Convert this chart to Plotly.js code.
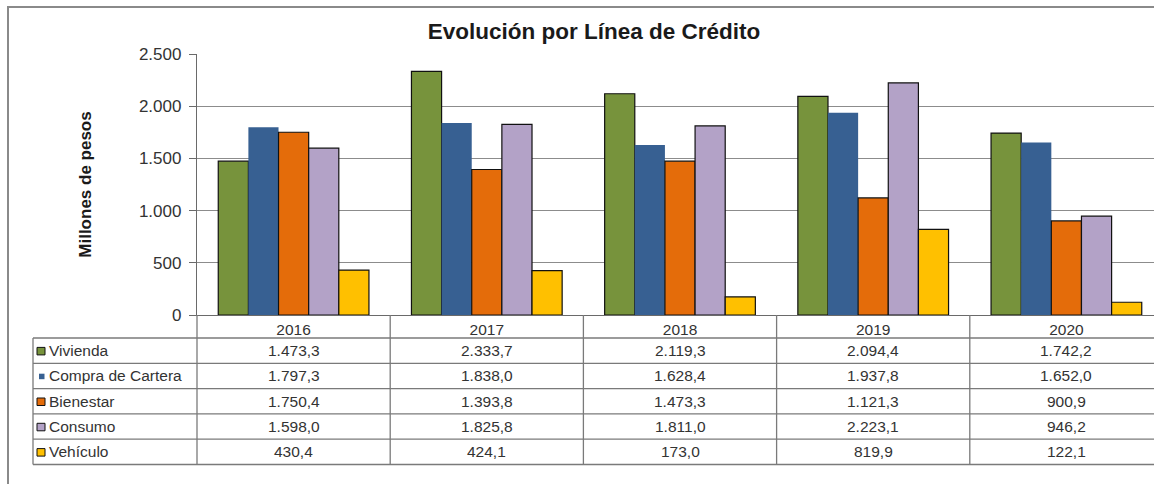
<!DOCTYPE html>
<html>
<head>
<meta charset="utf-8">
<script src="https://cdn.plot.ly/plotly-3.0.1.min.js"></script>
<style>
  html, body { margin: 0; padding: 0; background: #ffffff; overflow: hidden; }
  #chart { width: 1154px; height: 484px; }
</style>
</head>
<body>
<div id="chart"></div>
<script>
// ---- Data ----
const years = ['2016', '2017', '2018', '2019', '2020'];
const seriesNames = ['Vivienda', 'Compra de Cartera', 'Bienestar', 'Consumo', 'Vehículo'];
const vivienda = [1473.3, 2333.7, 2119.3, 2094.4, 1742.2];
const compraCartera = [1797.3, 1838.0, 1628.4, 1937.8, 1652.0];
const bienestar = [1750.4, 1393.8, 1473.3, 1121.3, 900.9];
const consumo = [1598.0, 1825.8, 1811.0, 2223.1, 946.2];
const vehiculo = [430.4, 424.1, 173.0, 819.9, 122.1];
const yTickVals = [0, 500, 1000, 1500, 2000, 2500];

const chartTitle = 'Evolución por Línea de Crédito';
const yTitle = 'Millones de pesos';

// ---- Styles ----
const seriesValues = [vivienda, compraCartera, bienestar, consumo, vehiculo];
const colors = ['#77933C', '#376092', '#E46C0A', '#B3A2C7', '#FFC000'];
const outlineWidths = [1.2, 0, 1.2, 1.2, 1.2];

const W = 1154, H = 484;
const M = { l: 197, r: 0, t: 54, b: 169 };
const PW = W - M.l - M.r, PH = H - M.t - M.b;
const zeroPx = H - M.b;
const catPx = 193.2;               // pixel width of one category
const px = p => (p - M.l) / PW;    // pixel x -> paper
const py = p => (zeroPx - p) / PH; // pixel y -> paper

function fmt(v) {
  const s = v.toFixed(1).split('.');
  return s[0].replace(/\B(?=(\d{3})+(?!\d))/g, '.') + ',' + s[1];
}

const textFont = { family: 'Liberation Sans, Arial, sans-serif', size: 15.5, color: '#333333' };

const traces = seriesNames.map((name, i) => ({
  type: 'bar',
  name: name,
  x: years,
  y: seriesValues[i],
  marker: { color: colors[i], line: { color: '#111111', width: outlineWidths[i] } },
  hoverinfo: 'name+y'
}));

// ---- Data table under the axis ----
const rowH = 25.3;
const headerBottom = zeroPx + 23;
const tableBottom = headerBottom + rowH * seriesNames.length;
const tableLeft = 33;
const lineStyle = { color: '#7a7a7a', width: 1.3 };

const shapes = [];
const annotations = [];

// outer chart frame
shapes.push({ type: 'rect', xref: 'paper', yref: 'paper',
  x0: px(8), x1: px(W + 40), y0: py(H + 40), y1: py(7),
  line: { color: '#8a8a8a', width: 2 }, fillcolor: 'rgba(0,0,0,0)', layer: 'below' });

// horizontal table lines
for (let r = 0; r <= seriesNames.length; r++) {
  const yy = headerBottom + r * rowH;
  shapes.push({ type: 'line', xref: 'paper', yref: 'paper',
    x0: px(tableLeft), x1: px(W + 20), y0: py(yy), y1: py(yy), line: lineStyle });
}
// left border of label column
shapes.push({ type: 'line', xref: 'paper', yref: 'paper',
  x0: px(tableLeft), x1: px(tableLeft), y0: py(headerBottom), y1: py(tableBottom), line: lineStyle });
// axis continuation
shapes.push({ type: 'line', xref: 'paper', yref: 'paper',
  x0: 0, x1: 0, y0: py(zeroPx), y1: py(tableBottom), line: lineStyle });
// category separators
for (let c = 0; c < years.length - 1; c++) {
  shapes.push({ type: 'line', xref: 'x', yref: 'paper',
    x0: c + 0.5, x1: c + 0.5, y0: py(zeroPx), y1: py(tableBottom), line: lineStyle });
}

// row labels, legend keys, values
seriesNames.forEach((name, r) => {
  const yc = headerBottom + r * rowH + rowH / 2;
  const isBlue = outlineWidths[r] === 0;
  const k = isBlue ? { x0: 39, x1: 44.5, h: 5.5 } : { x0: 37, x1: 45, h: 7.5 };
  shapes.push({ type: 'rect', xref: 'paper', yref: 'paper',
    x0: px(k.x0), x1: px(k.x1), y0: py(yc - k.h / 2 + 0.5), y1: py(yc + k.h / 2 + 0.5),
    fillcolor: colors[r], line: { color: '#111111', width: isBlue ? 0 : 1 } });
  annotations.push({ xref: 'paper', yref: 'paper', x: px(47), y: py(yc),
    xanchor: 'left', yanchor: 'middle', text: name, showarrow: false, font: textFont });
  seriesValues[r].forEach((v, c) => {
    // category index c on the x axis
    annotations.push({ xref: 'x', yref: 'paper', x: c, y: py(yc),
      xanchor: 'center', yanchor: 'middle', text: fmt(v), showarrow: false, font: textFont });
  });
});

const layout = {
  width: W, height: H,
  margin: M,
  paper_bgcolor: '#ffffff',
  plot_bgcolor: '#ffffff',
  separators: ',.',
  showlegend: false,
  barmode: 'group',
  bargap: 0.22,
  bargroupgap: 0,
  title: { text: '<b>' + chartTitle + '</b>', xref: 'container', x: 594 / W, xanchor: 'center',
    yref: 'container', y: 1 - 31 / H, yanchor: 'middle',
    font: { family: 'Liberation Sans, Arial, sans-serif', size: 22.5, color: '#1a1a1a' } },
  xaxis: {
    type: 'category',
    range: [-0.5, -0.5 + PW / catPx],
    showgrid: false, zeroline: false,
    showline: true, linecolor: '#6a6a6a', linewidth: 1.3,
    ticks: '', ticklabelstandoff: 0,
    tickfont: textFont,
    fixedrange: true
  },
  yaxis: {
    range: [0, 2500],
    tickvals: yTickVals,
    tickformat: ',d',
    showgrid: true, gridcolor: '#8c8c8c', gridwidth: 1,
    zeroline: false,
    showline: true, linecolor: '#6a6a6a', linewidth: 1.3,
    ticks: 'outside', ticklen: 7, tickcolor: '#6a6a6a', tickwidth: 1.3,
    ticklabelstandoff: 4,
    tickfont: { family: 'Liberation Sans, Arial, sans-serif', size: 17, color: '#333333' },
    title: { text: '<b>' + yTitle + '</b>', standoff: 42,
      font: { family: 'Liberation Sans, Arial, sans-serif', size: 17, color: '#1a1a1a' } },
    fixedrange: true
  },
  shapes: shapes,
  annotations: annotations
};

Plotly.newPlot('chart', traces, layout, { displayModeBar: false, responsive: false });
</script>
</body>
</html>
